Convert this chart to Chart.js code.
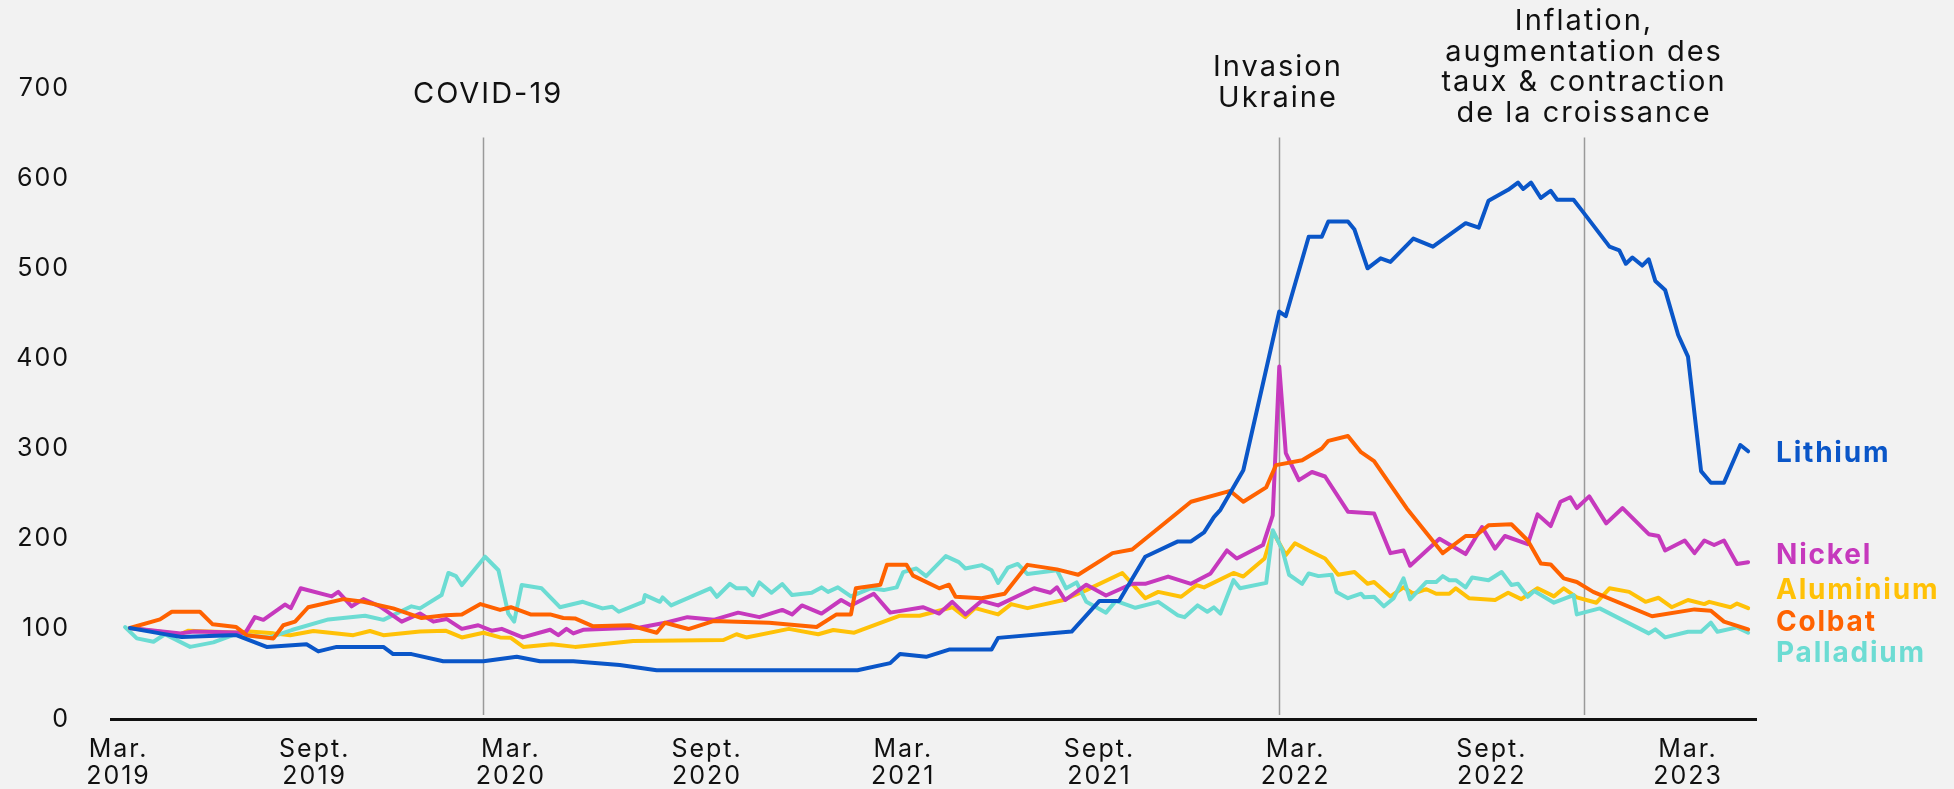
<!DOCTYPE html>
<html>
<head>
<meta charset="utf-8">
<script src="https://cdn.jsdelivr.net/npm/chart.js@4.4.1/dist/chart.umd.min.js"></script>
<style>
    html, body { margin: 0; padding: 0; background: #f2f2f2; }
    #wrap { width: 1954px; height: 789px; position: relative; }
</style>
</head>
<body>
<div id="wrap"><canvas id="myChart"></canvas></div>
<script>
'use strict';

// [months since March 2019, index (base 100)]
const lithium = [
    [0.35, 101], [1.27, 95], [1.93, 91], [3.41, 93], [3.6, 93], [4.53, 80], [5.75, 83], [6.11, 75],
    [6.67, 80], [8.1, 80], [8.4, 72], [8.96, 72], [9.93, 64], [11.16, 64], [12.18, 69], [12.89, 64],
    [13.91, 64], [15.33, 60], [16.46, 54], [22.6, 54], [23.6, 62], [23.9, 72], [24.7, 69], [25.4, 77],
    [26.7, 77], [26.9, 90], [29.15, 97], [30.0, 131], [30.6, 131], [31.4, 180], [32.4, 197], [32.8, 197],
    [33.2, 207], [33.5, 224], [33.7, 232], [34.4, 276], [35.5, 452], [35.7, 447], [36.4, 535], [36.8, 535],
    [37.0, 552], [37.6, 552], [37.8, 543], [38.2, 500], [38.6, 511], [38.9, 507], [39.6, 533], [40.2, 524],
    [41.2, 550], [41.6, 545], [41.9, 575], [42.5, 587], [42.8, 595], [42.96, 588], [43.2, 595], [43.5, 578],
    [43.8, 586], [44.0, 576], [44.5, 576], [44.8, 562], [45.6, 524], [45.9, 520], [46.1, 505], [46.3, 512],
    [46.6, 503], [46.8, 510], [47.0, 486], [47.3, 476], [47.7, 426], [48.0, 402], [48.4, 275], [48.7, 262],
    [49.1, 262], [49.6, 304], [49.84, 297]
];
const nickel = [
    [0.35, 101], [1.9, 95], [2.3, 97], [3.6, 96], [3.87, 95], [4.17, 113], [4.43, 110], [5.09, 127],
    [5.27, 123], [5.57, 145], [6.52, 136], [6.72, 141], [7.13, 125], [7.49, 133], [7.99, 125], [8.66, 108],
    [9.22, 117], [9.63, 108], [10.03, 111], [10.5, 100], [11.0, 104], [11.41, 98], [11.72, 100], [12.36, 90.5],
    [13.2, 99], [13.45, 93], [13.7, 100], [13.91, 95], [14.21, 99], [15.95, 101.6], [16.76, 107], [17.4, 113],
    [18.2, 110], [18.95, 118], [19.6, 113], [20.3, 121], [20.6, 116], [20.9, 126], [21.5, 117], [22.1, 132],
    [22.4, 126], [23.1, 139], [23.6, 118], [24.6, 124], [25.1, 117], [25.5, 130], [25.9, 116], [26.4, 131],
    [26.9, 126], [28.0, 145], [28.5, 140], [28.7, 146], [28.95, 132], [29.6, 149], [30.2, 137], [31.0, 150],
    [31.4, 150], [32.1, 158], [32.8, 150], [33.4, 161.5], [33.9, 187], [34.2, 178], [35.0, 193], [35.3, 226],
    [35.5, 391], [35.7, 295], [36.1, 265], [36.5, 274], [36.9, 269], [37.6, 230], [38.4, 228], [38.9, 184],
    [39.3, 187], [39.5, 170], [40.4, 200], [41.2, 183], [41.7, 213], [42.1, 189], [42.4, 203], [43.1, 194],
    [43.4, 227], [43.8, 214], [44.1, 241], [44.4, 246], [44.6, 234], [44.98, 247], [45.5, 217], [46.0, 234],
    [46.8, 205], [47.1, 203], [47.3, 187], [47.9, 198], [48.2, 184], [48.5, 198], [48.8, 193], [49.1, 198],
    [49.5, 172], [49.84, 174]
];
const aluminium = [
    [0.35, 101], [1.88, 94], [2.14, 98], [3.6, 96], [4.0, 97], [4.74, 95], [5.25, 93], [5.96, 97.6],
    [7.18, 93], [7.69, 97.6], [8.1, 93], [9.22, 97], [10.0, 98], [10.5, 90.5], [11.16, 95.7], [11.67, 90.5],
    [12.0, 90], [12.38, 80], [13.25, 83], [13.96, 80], [15.74, 86.5], [18.5, 87.6], [18.9, 94], [19.2, 90.5],
    [20.5, 100], [21.4, 94], [21.86, 98.7], [22.5, 95.7], [23.9, 114.6], [24.5, 114.6], [25.5, 124], [25.9, 113],
    [26.2, 123], [26.9, 116], [27.3, 127.5], [27.8, 123], [28.9, 132], [29.6, 143], [30.7, 162], [31.4, 134],
    [31.8, 141], [32.5, 135.6], [32.97, 148.6], [33.2, 146], [34.1, 162], [34.4, 158], [35.05, 178], [35.3, 208],
    [35.7, 182], [35.98, 195], [36.4, 187], [36.9, 178], [37.3, 160], [37.8, 163], [38.2, 150], [38.4, 152],
    [38.9, 136], [39.3, 146], [39.6, 139], [40.0, 144], [40.3, 139], [40.7, 139], [40.9, 145], [41.3, 134],
    [42.1, 132], [42.5, 140], [42.9, 133], [43.4, 145], [43.9, 136], [44.2, 145], [44.6, 135], [45.2, 129],
    [45.6, 145], [46.2, 141], [46.7, 130], [47.1, 134.5], [47.5, 124], [48.0, 132], [48.5, 127.5], [48.65, 130],
    [49.3, 124], [49.5, 128], [49.84, 123]
];
const colbat = [
    [0.35, 101], [1.27, 110.5], [1.63, 119], [2.49, 119], [2.88, 105], [3.6, 102], [3.92, 93], [4.74, 89.4],
    [5.04, 104], [5.4, 108], [5.8, 124], [6.88, 133], [7.49, 130], [8.4, 122.7], [9.27, 112], [10.0, 115],
    [10.5, 116], [11.07, 127.5], [11.67, 121], [12.0, 124], [12.6, 116], [13.2, 116], [13.6, 112], [13.96, 111.6],
    [14.5, 103], [15.64, 104], [16.46, 95.7], [16.71, 106.8], [17.43, 99.8], [18.19, 108.6], [19.9, 106.8], [21.35, 102],
    [21.96, 116], [22.4, 116], [22.55, 145], [23.3, 149], [23.5, 171], [24.1, 171], [24.3, 159], [25.1, 145],
    [25.4, 149], [25.6, 135.6], [26.4, 134], [27.1, 139], [27.8, 171], [28.7, 166], [29.35, 160], [30.4, 184],
    [31.0, 188], [31.85, 213], [32.8, 241], [34.0, 253], [34.4, 241], [35.1, 257], [35.4, 281.6], [36.2, 287],
    [36.8, 300], [37.0, 308.6], [37.6, 314], [38.0, 296], [38.4, 286], [38.8, 265], [39.4, 233.6], [40.1, 202],
    [40.5, 184], [41.2, 203], [41.5, 203], [41.9, 215], [42.6, 216], [43.1, 198], [43.5, 172.6], [43.8, 171.5],
    [44.2, 156], [44.6, 152], [45.1, 141], [46.9, 114], [48.2, 121.6], [48.7, 120], [49.1, 108], [49.84, 99.4]
];
const palladium = [
    [0.2, 102], [0.56, 89.4], [1.07, 85.7], [1.42, 94], [2.19, 80], [2.9, 85], [3.56, 94], [4.63, 90.5],
    [5.3, 98.7], [6.42, 110.5], [7.54, 114.6], [8.1, 110], [8.96, 125], [9.22, 122.7], [9.88, 137.5], [10.09, 162],
    [10.32, 158.5], [10.5, 148.6], [11.21, 180], [11.62, 165], [11.92, 117], [12.1, 108], [12.33, 148.6], [12.94, 145],
    [13.5, 124], [14.2, 130], [14.8, 122.7], [15.1, 124.5], [15.3, 119], [16.05, 130], [16.1, 137.5], [16.56, 130],
    [16.64, 134.9], [16.9, 126], [18.1, 145], [18.3, 135.6], [18.7, 150], [18.9, 145], [19.2, 145], [19.4, 137.5],
    [19.6, 151.5], [19.97, 140], [20.3, 149.7], [20.6, 137.5], [21.2, 140], [21.5, 146], [21.7, 141], [22.0, 146],
    [22.4, 136], [23.0, 145], [23.4, 143], [23.8, 146], [24.0, 163], [24.4, 167], [24.7, 158.5], [25.3, 180.7],
    [25.7, 174], [25.9, 167], [26.4, 170.7], [26.7, 165], [26.9, 151], [27.2, 168], [27.5, 172], [27.8, 160.8],
    [28.7, 165], [28.98, 145], [29.3, 151.5], [29.6, 130], [30.2, 118], [30.5, 131], [31.1, 123.4], [31.8, 130],
    [32.4, 115], [32.6, 113], [33.0, 126], [33.3, 119], [33.5, 123.8], [33.7, 117], [34.1, 154], [34.3, 145],
    [35.1, 151], [35.3, 209.5], [35.6, 187], [35.8, 160], [36.2, 150], [36.4, 161.5], [36.7, 158.5], [37.1, 160],
    [37.25, 141], [37.6, 134], [38.0, 139], [38.1, 135], [38.4, 135.6], [38.7, 125], [39.0, 134], [39.3, 156],
    [39.5, 132.7], [40.0, 152], [40.3, 152], [40.5, 158.5], [40.7, 154], [40.9, 154], [41.2, 146], [41.4, 157],
    [41.9, 154], [42.3, 163], [42.6, 148.6], [42.8, 150], [43.1, 135.6], [43.3, 142], [43.9, 129], [44.5, 137.5],
    [44.6, 116], [45.3, 122.7], [46.8, 95], [47.0, 99.4], [47.3, 90.5], [48.0, 96.8], [48.4, 96.8], [48.7, 106.8],
    [48.9, 96.8], [49.5, 101.6], [49.84, 95.7]
];

const tickMonths = [0, 6, 12, 18, 24, 30, 36, 42, 48];
const tickLabels = [
    ['Mar.', '2019'], ['Sept.', '2019'], ['Mar.', '2020'], ['Sept.', '2020'], ['Mar.', '2021'],
    ['Sept.', '2021'], ['Mar.', '2022'], ['Sept.', '2022'], ['Mar.', '2023']
];
const eventMonths = [11.15, 35.49, 44.82];
const eventLabels = [
    ['COVID-19'],
    ['Invasion', 'Ukraine'],
    ['Inflation,', 'augmentation des', 'taux & contraction', 'de la croissance']
];

const FONT = 'Inter, "Noto Sans", sans-serif';
const INK = '#111111';

// name, colour, value the end label sits at
const series = [
    { name: 'Lithium', data: lithium, color: '#0a56c8', labelAt: 295 },
    { name: 'Colbat', data: colbat, color: '#ff6200', labelAt: 107.5 },
    { name: 'Nickel', data: nickel, color: '#c639bd', labelAt: 181 },
    { name: 'Palladium', data: palladium, color: '#6cdcd3', labelAt: 73 },
    { name: 'Aluminium', data: aluminium, color: '#ffc107', labelAt: 142 }
];

const eventStyle = [
    { dx: 5, lastLine: 6 },
    { dx: -1, lastLine: 10 },
    { dx: 0, lastLine: 25 }
];

const overlay = {
    id: 'overlay',
    beforeDraw(chart) {
        const ctx = chart.ctx;
        ctx.save();
        ctx.fillStyle = '#f2f2f2';
        ctx.fillRect(0, 0, chart.width, chart.height);
        ctx.restore();
        // the reference face is wider than Inter: x tick labels get some tracking
        ctx.letterSpacing = '2px';
    },
    beforeDatasetsDraw(chart) {
        const {ctx, chartArea, scales: {x, y}} = chart;
        ctx.letterSpacing = '0px';
        ctx.save();
        ctx.strokeStyle = '#9a9a9a';
        ctx.lineWidth = 1.5;
        eventMonths.forEach((m) => {
            const px = Math.round(x.getPixelForValue(m)) + 0.5;
            ctx.beginPath();
            ctx.moveTo(px, y.getPixelForValue(645));
            ctx.lineTo(px, chartArea.bottom - 4);
            ctx.stroke();
        });
        ctx.restore();
    },
    afterDraw(chart) {
        const {ctx, chartArea, scales: {x, y}} = chart;
        ctx.save();
        ctx.fillStyle = INK;
        ctx.font = '29px ' + FONT;
        ctx.letterSpacing = '2px';
        ctx.textAlign = 'center';
        ctx.textBaseline = 'middle';
        eventMonths.forEach((m, i) => {
            const lines = eventLabels[i];
            const cx = x.getPixelForValue(m) + eventStyle[i].dx;
            const bottom = chartArea.top + eventStyle[i].lastLine;
            lines.forEach((t, j) => {
                ctx.fillText(t, cx, bottom - (lines.length - 1 - j) * 30.5);
            });
        });
        ctx.font = 'bold 28px ' + FONT;
        ctx.letterSpacing = '1.8px';
        ctx.textAlign = 'left';
        series.forEach((s) => {
            ctx.fillStyle = s.color;
            ctx.fillText(s.name, chartArea.right + 20, y.getPixelForValue(s.labelAt));
        });
        ctx.restore();
        ctx.letterSpacing = '0px';
    }
};

new Chart(document.getElementById('myChart').getContext('2d'), {
    type: 'line',
    data: {
        datasets: series.map((s) => ({
            label: s.name,
            data: s.data.map((p) => ({x: p[0], y: p[1]})),
            borderColor: s.color,
            backgroundColor: s.color,
            borderWidth: 4,
            borderJoinStyle: 'round',
            borderCapStyle: 'round',
            pointRadius: 0,
            tension: 0,
            fill: false
        }))
    },
    options: {
        responsive: true,
        maintainAspectRatio: false,
        animation: false,
        events: [],
        layout: {
            padding: {top: 88, right: 198, bottom: 0, left: 0}
        },
        plugins: {
            legend: {display: false},
            tooltip: {enabled: false}
        },
        scales: {
            x: {
                type: 'linear',
                min: -0.23,
                max: 50.08,
                afterBuildTicks: (scale) => {
                    scale.ticks = tickMonths.map((v) => ({value: v}));
                },
                afterFit: (scale) => {
                    scale.height = 70;
                },
                grid: {display: false, drawTicks: false},
                border: {display: true, color: INK, width: 3},
                ticks: {
                    autoSkip: false,
                    maxRotation: 0,
                    padding: 16.5,
                    color: INK,
                    font: {family: FONT, size: 25, lineHeight: 1.08},
                    callback: (value) => tickLabels[tickMonths.indexOf(value)]
                }
            },
            y: {
                min: 0,
                max: 700,
                z: 1,
                afterFit: (scale) => {
                    scale.width = 111;
                },
                grid: {display: false, drawTicks: false},
                border: {display: false},
                ticks: {
                    stepSize: 100,
                    padding: 41,
                    color: INK,
                    font: {family: FONT, size: 25}
                }
            }
        }
    },
    plugins: [overlay]
});
</script>
</body>
</html>
